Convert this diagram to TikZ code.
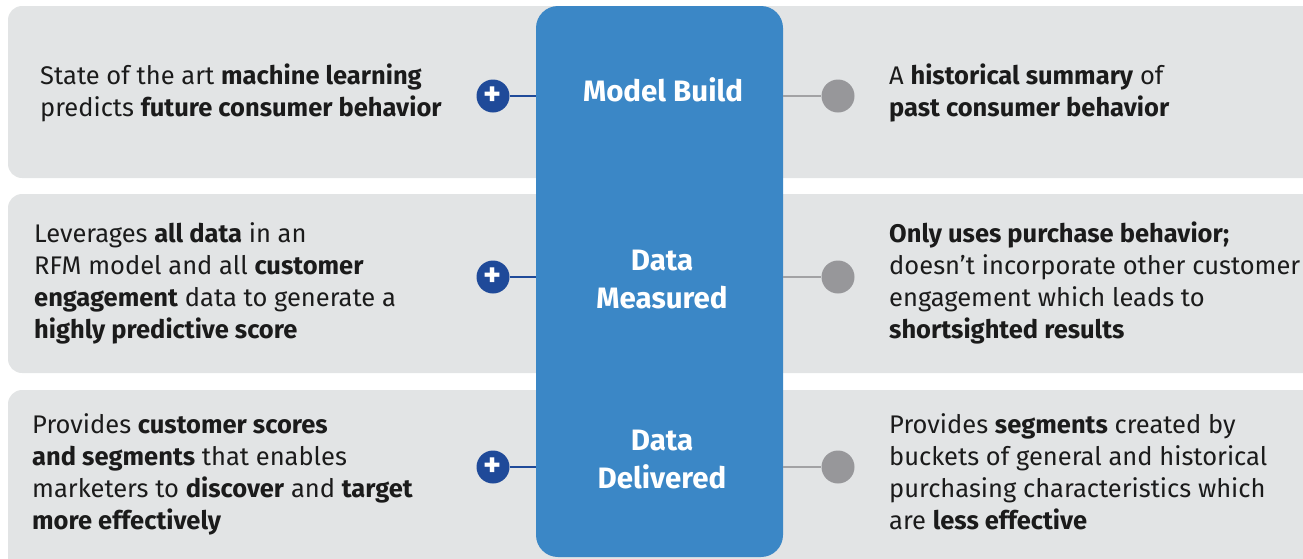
\documentclass[tikz,border=0pt]{standalone}
\usepackage{fontspec}
\setmainfont{Fira Sans}
\definecolor{rowgray}{HTML}{E2E4E5}
\definecolor{coreblue}{HTML}{3B87C6}
\definecolor{plusblue}{HTML}{1F4A99}
\definecolor{dotgray}{HTML}{97979A}
\definecolor{linegray}{HTML}{A2A2A4}
\definecolor{ink}{HTML}{1B1B1B}
\tikzset{
  rowbox/.style={fill=rowgray, rounded corners=14pt},
  body/.style={font=\fontsize{25.5}{32}\selectfont, text=ink, align=left, inner sep=0pt, anchor=west},
  title/.style={font=\fontsize{29.5}{38}\selectfont\bfseries, text=white, align=center, inner sep=0pt},
  plusdot/.style={circle, fill=plusblue, minimum size=33pt, inner sep=0pt, text=white, font=\fontsize{34}{34}\selectfont\bfseries},
  greydot/.style={circle, fill=dotgray, minimum size=33pt, inner sep=0pt},
  pluslink/.style={draw=plusblue, line width=2.6pt},
  greylink/.style={draw=linegray, line width=2.6pt},
}
\begin{document}
\begin{tikzpicture}[x=1pt,y=-1pt]
\useasboundingbox (0,0) rectangle (1303,558);
\clip (0,0) rectangle (1303,558);
% background rows
\fill[rowbox] (8,6) rectangle (1318,178);
\fill[rowbox] (8,194) rectangle (1318,373);
\fill[rowbox] (8,390) rectangle (1318,600);
% central column
\node[fill=coreblue, rounded corners=22pt, minimum width=247pt, minimum height=551pt, inner sep=0pt] (core) at (659.5,281.5) {};
% titles
\node[title] (t1) at (663,90) {Model Build};
\node[title] (t2) at (662,280) {Data\\Measured};
\node[title] (t3) at (662,460) {Data\\Delivered};
% markers
\node[plusdot] (p1) at (493,96) {+};
\node[plusdot] (p2) at (493,277) {+};
\node[plusdot] (p3) at (493,467) {+};
\node[greydot] (g1) at (838,96) {};
\node[greydot] (g2) at (838,277) {};
\node[greydot] (g3) at (838,467) {};
\draw[pluslink] (p1.east) -- (core.west |- p1);
\draw[pluslink] (p2.east) -- (core.west |- p2);
\draw[pluslink] (p3.east) -- (core.west |- p3);
\draw[greylink] (core.east |- g1) -- (g1.west);
\draw[greylink] (core.east |- g2) -- (g2.west);
\draw[greylink] (core.east |- g3) -- (g3.west);
% left texts
\node[body] (l1) at (40,93) {State of the art \textbf{machine learning}\\predicts \textbf{future consumer behavior}};
\node[body] (l2) at (34,283) {Leverages \textbf{all data} in an\\RFM model and all \textbf{customer}\\\textbf{engagement} data to generate a\\\textbf{highly predictive score}};
\node[body] (l3) at (32,474) {Provides \textbf{customer scores}\\\textbf{and segments} that enables\\marketers to \textbf{discover} and \textbf{target}\\\textbf{more effectively}};
% right texts
\node[body] (r1) at (889,93) {A \textbf{historical summary} of\\\textbf{past consumer behavior}};
\node[body] (r2) at (889,283) {\textbf{Only uses purchase behavior;}\\doesn’t incorporate other customer\\engagement which leads to\\\textbf{shortsighted results}};
\node[body] (r3) at (889,472) {Provides \textbf{segments} created by\\buckets of general and historical\\purchasing characteristics which\\are \textbf{less effective}};
\end{tikzpicture}
\end{document}
